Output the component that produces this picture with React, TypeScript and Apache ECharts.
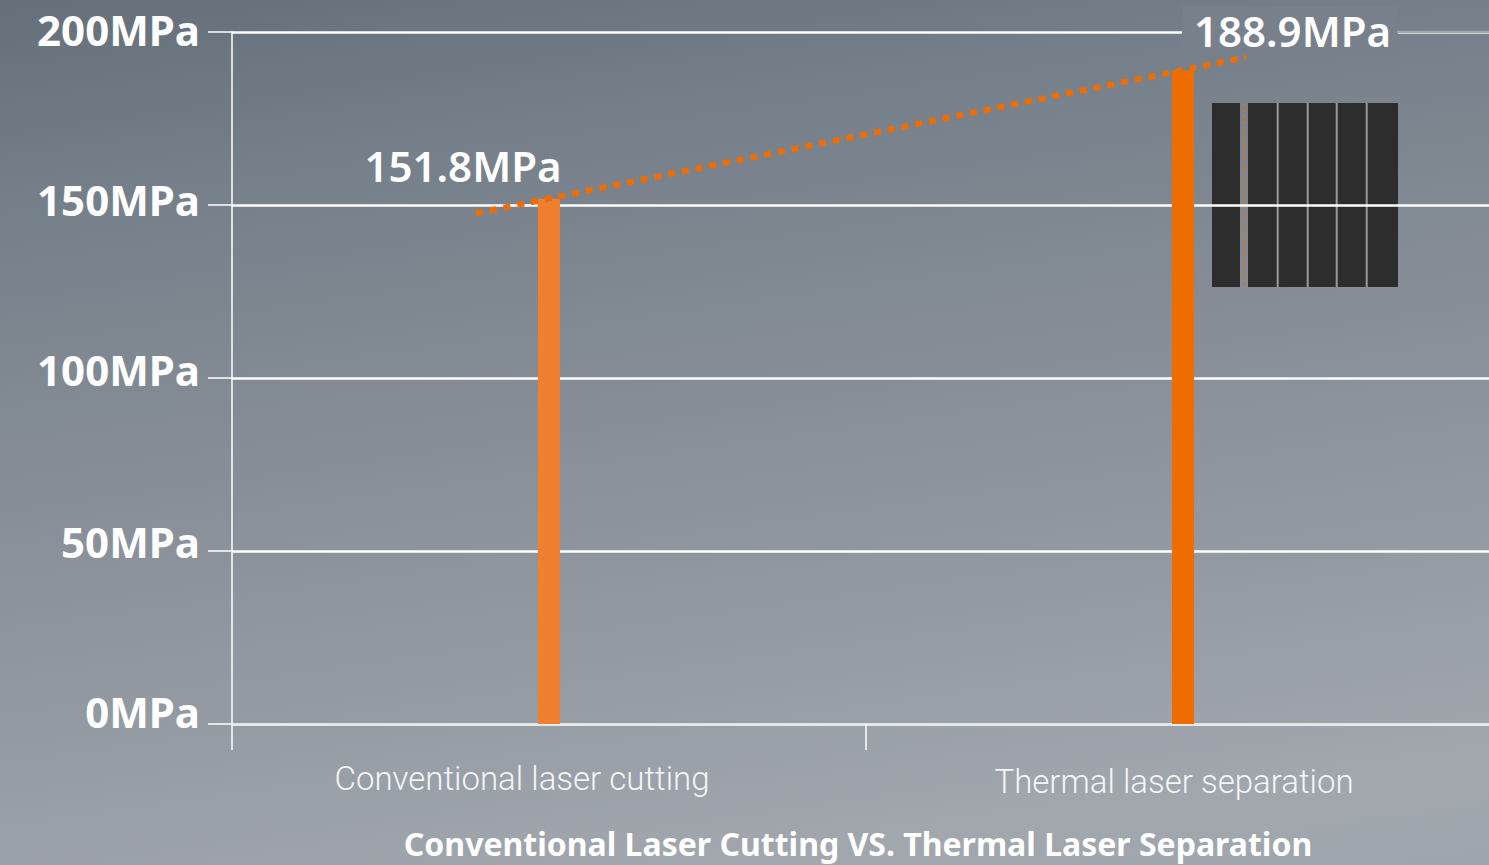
import React, { useEffect, useRef } from "react";
import * as echarts from "echarts";

const categories = ["Conventional laser cutting", "Thermal laser separation"];
const strengthValues = [151.8, 188.9];
const barColors = ["#f07f30", "#ee6c00"];
const yTicks = { min: 0, max: 200, interval: 50 };
// dotted trend line extents (x in category units, 0..2)
const trendX = [0.385, 1.6];
const trendY = [147.6, 192.7];
const chartTitle = "Conventional Laser Cutting VS. Thermal Laser Separation";

// small per-label nudges (px) to follow the reference's hand placement
const yLabelLift: Record<string, number> = { "0": 13, "50": 10, "100": 9, "150": 6, "200": 3 };

export default function App() {
  const ref = useRef<HTMLDivElement>(null);
  useEffect(() => {
    if (!ref.current) return;
    const chart = echarts.init(ref.current, undefined, { renderer: "svg" });
    const W = 1489;
    const yRich: any = {};
    Object.keys(yLabelLift).forEach((k) => {
      yRich["y" + k] = {
        color: "#ffffff",
        fontSize: 42,
        fontWeight: "bold",
        fontFamily: "Noto Sans",
        padding: [0, 0, yLabelLift[k] * 2, 0],
      };
    });
    const option: any = {
      animation: false,
      backgroundColor: "transparent",
      grid: {
        left: 232,
        width: 1268,
        top: 32,
        bottom: 141,
        containLabel: false,
        outerBoundsMode: "none",
      },
      xAxis: [
        {
          type: "category",
          data: categories,
          axisLine: { show: true, lineStyle: { color: "#dfe2e6", width: 1.5 } },
          axisTick: { show: true, length: 26, lineStyle: { color: "#ffffff", width: 1.5 } },
          axisLabel: {
            margin: 38,
            formatter: (v: string) => `{c${categories.indexOf(v)}|${v}}`,
            rich: {
              c0: {
                color: "#f4f5f6",
                fontSize: 33,
                fontFamily: "Roboto",
                fontWeight: 300,
                padding: [0, 54, 0, 0],
              },
              c1: {
                color: "#f4f5f6",
                fontSize: 33,
                fontFamily: "Roboto",
                fontWeight: 300,
                padding: [3, 18, 0, 0],
              },
            },
          },
          splitLine: { show: false },
        },
        { type: "value", min: 0, max: 2, show: false },
      ],
      yAxis: {
        type: "value",
        min: yTicks.min,
        max: yTicks.max,
        interval: yTicks.interval,
        axisLine: { show: true, lineStyle: { color: "#ffffff", width: 1.5 } },
        axisTick: { show: true, length: 24, lineStyle: { color: "#ffffff", width: 1.5 } },
        axisLabel: {
          formatter: (v: number) => `{y${v}|${v}MPa}`,
          rich: yRich,
          margin: 32,
        },
        splitLine: { show: true, lineStyle: { color: "#ffffff", width: 2.5 } },
      },
      series: [
        {
          type: "bar",
          xAxisIndex: 0,
          barWidth: 22,
          z: 3,
          data: strengthValues.map((v, i) => ({
            value: v,
            itemStyle: { color: barColors[i] },
            label:
              i === 0
                ? { offset: [-86, -6] }
                : {
                    offset: [107, -11],
                    backgroundColor: "#78818b",
                    padding: [2, 7, 2, 12],
                  },
          })),
          label: {
            show: true,
            position: "top",
            distance: 5,
            formatter: (p: any) => `${p.value}MPa`,
            color: "#ffffff",
            fontSize: 42,
            lineHeight: 44,
            fontWeight: 600,
            fontFamily: "Noto Sans",
          },
        },
        {
          type: "line",
          xAxisIndex: 1,
          z: 5,
          symbol: "none",
          silent: true,
          data: trendX.map((x, i) => [x, trendY[i]]),
          lineStyle: { color: "#ee6c00", width: 6, type: [7, 7] },
        },
      ],
      graphic: [
        {
          type: "line",
          z: 10,
          shape: { x1: 1397, y1: 32, x2: W, y2: 32 },
          style: { stroke: "#a4a7aa", lineWidth: 2.5 },
        },
        {
          type: "group",
          x: 1212,
          y: 103,
          z: 10,
          children: [
            { type: "rect", shape: { x: 0, y: 0, width: 28, height: 184 }, style: { fill: "#2d2d2d" } },
            { type: "rect", shape: { x: 36, y: 0, width: 150, height: 184 }, style: { fill: "#2d2d2d" } },
            {
              type: "line",
              shape: { x1: 32.3, y1: 0, x2: 32.3, y2: 184 },
              style: { stroke: "#ee6c00", lineWidth: 1.5, lineDash: [3, 3] },
            },
            ...[65.7, 95.7, 124.7, 154.7].map((x) => ({
              type: "line",
              shape: { x1: x, y1: 0, x2: x, y2: 184 },
              style: { stroke: "#9a9a9a", lineWidth: 2 },
            })),
          ],
        },
        {
          type: "text",
          x: 858,
          y: 843,
          z: 10,
          style: {
            text: chartTitle,
            fill: "#ffffff",
            font: "bold 32px 'Noto Sans'",
            textAlign: "center",
            textVerticalAlign: "middle",
          },
        },
      ],
    };
    chart.setOption(option);
    return () => chart.dispose();
  }, []);
  return (
    <div
      ref={ref}
      style={{
        position: "fixed",
        left: 0,
        top: 0,
        width: 1489,
        height: 865,
        background:
          "linear-gradient(172deg, #656f7a 0%, #76808a 20%, #868d96 45%, #959ba3 70%, #a2a7ae 90%, #9fa5ac 100%)",
      }}
    />
  );
}
